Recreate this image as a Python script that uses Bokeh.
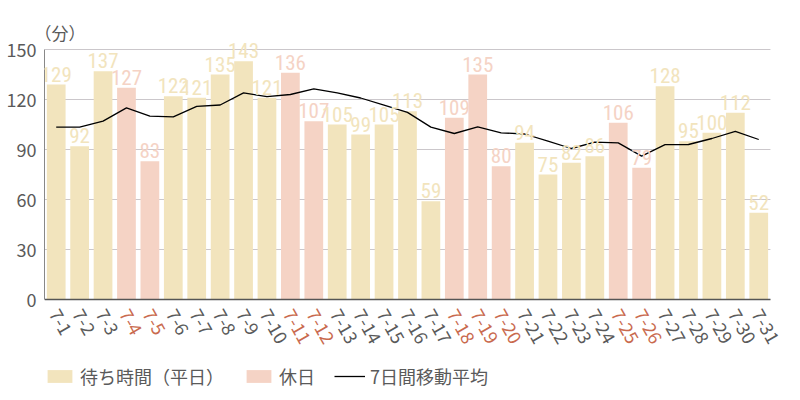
from bokeh.plotting import figure
from bokeh.models import (ColumnDataSource, LabelSet, Legend, LegendItem, Label,
                          FixedTicker, Range1d)
from bokeh.embed import file_html
from bokeh.resources import INLINE
from bokeh.core.properties import value

dates = ["7-1", "7-2", "7-3", "7-4", "7-5", "7-6", "7-7", "7-8", "7-9", "7-10",
         "7-11", "7-12", "7-13", "7-14", "7-15", "7-16", "7-17", "7-18", "7-19", "7-20",
         "7-21", "7-22", "7-23", "7-24", "7-25", "7-26", "7-27", "7-28", "7-29", "7-30", "7-31"]
waits = [129, 92, 137, 127, 83, 122, 121, 135, 143, 121, 136, 107, 105, 99, 105, 113,
         59, 109, 135, 80, 94, 75, 82, 86, 106, 79, 128, 95, 100, 112, 52]
holidays = ["7-4", "7-5", "7-11", "7-12", "7-18", "7-19", "7-20", "7-25", "7-26"]
ma7 = [103.4, 103.4, 107.0, 115.0, 110.0, 109.6, 115.9, 116.7, 124.0, 121.7, 123.0,
       126.4, 124.0, 120.9, 116.6, 112.3, 103.4, 99.6, 103.6, 100.0, 99.3, 95.0, 90.6,
       94.4, 94.0, 86.0, 92.9, 93.0, 96.6, 100.9, 96.0]
yticks = [0, 30, 60, 90, 120, 150]

WEEKDAY = "#F2E4BD"
HOLIDAY = "#F5D3C5"
HOL_TXT = "#C96A4E"
GRAY_TXT = "#5a5a5a"

n = len(dates)
idx = list(range(n))
is_hol = [d in holidays for d in dates]
wd_src = ColumnDataSource(dict(i=[i for i, h in zip(idx, is_hol) if not h],
                               wait=[w for w, h in zip(waits, is_hol) if not h]))
hd_src = ColumnDataSource(dict(i=[i for i, h in zip(idx, is_hol) if h],
                               wait=[w for w, h in zip(waits, is_hol) if h]))
lbl_src = ColumnDataSource(dict(
    i=idx, date=dates, wait=waits, txt=[str(w) for w in waits],
    vcolor=[HOLIDAY if h else WEEKDAY for h in is_hol],
    xcolor=[HOL_TXT if h else GRAY_TXT for h in is_hol],
    zero=[0] * n))
ma_src = ColumnDataSource(dict(i=idx, ma=ma7))

xlo, xhi = -0.5, n - 0.5
p = figure(x_range=Range1d(xlo, 31.1), y_range=Range1d(-54.6, 179.4),
           width=784, height=390,
           min_border_left=44, min_border_right=0, min_border_top=0, min_border_bottom=0,
           output_backend="svg", toolbar_location=None, background_fill_color="white")
p.outline_line_color = None
p.xaxis.visible = False
p.grid.visible = False

# horizontal grid lines
p.segment(x0=[xlo] * len(yticks), x1=[xhi] * len(yticks), y0=yticks, y1=yticks,
          line_color="#CBC7CB", line_width=1)

r_wd = p.vbar(x="i", top="wait", width=0.8, source=wd_src, fill_color=WEEKDAY, line_color=None)
r_hd = p.vbar(x="i", top="wait", width=0.8, source=hd_src, fill_color=HOLIDAY, line_color=None)
# bottom axis line
p.segment(x0=[xlo], x1=[xhi], y0=[0], y1=[0], line_color="#555555", line_width=1.5)
r_ma = p.line(x="i", y="ma", source=ma_src, line_color="black", line_width=1.3)

p.yaxis.ticker = FixedTicker(ticks=yticks)
p.yaxis.bounds = (0, 150)
p.yaxis.minor_tick_line_color = None
p.yaxis.major_tick_line_color = None
p.yaxis.major_tick_out = 0
p.yaxis.major_tick_in = 0
p.yaxis.axis_line_color = "#888888"
p.yaxis.major_label_text_font = "Noto Sans CJK JP"
p.yaxis.major_label_text_font_size = "18px"
p.yaxis.major_label_text_color = GRAY_TXT
p.yaxis.major_label_standoff = 8

vals = LabelSet(x="i", y="wait", text="txt", source=lbl_src, text_align="center",
                text_baseline="alphabetic", y_offset=3, text_color="vcolor",
                text_font=value("Roboto Condensed, Liberation Sans Narrow, DejaVu Sans Condensed"),
                text_font_size="21px")
p.add_layout(vals)

xl = LabelSet(x="i", y="zero", text="date", source=lbl_src, text_align="left",
              text_baseline="middle", y_offset=-11, x_offset=-2, angle=-1.05, text_color="xcolor",
              text_font=value("Noto Sans CJK JP"), text_font_size="18px")
p.add_layout(xl)

unit = Label(x=xlo, y=150, x_offset=-10, y_offset=17, text="（分）",
             text_font="Noto Sans CJK JP", text_font_size="17px",
             text_color=GRAY_TXT, text_baseline="middle")
p.add_layout(unit)

legend = Legend(items=[LegendItem(label="待ち時間（平日）", renderers=[r_wd]),
                       LegendItem(label="休日", renderers=[r_hd]),
                       LegendItem(label="7日間移動平均", renderers=[r_ma])],
                location=(0, 1), orientation="horizontal",
                glyph_width=31, glyph_height=16, label_standoff=5, spacing=19,
                padding=0, margin=0, border_line_color=None, background_fill_alpha=0,
                label_text_font="Noto Sans CJK JP", label_text_font_size="18px",
                label_text_color=GRAY_TXT)
p.add_layout(legend)

open("out.html", "w").write(file_html(p, INLINE))
